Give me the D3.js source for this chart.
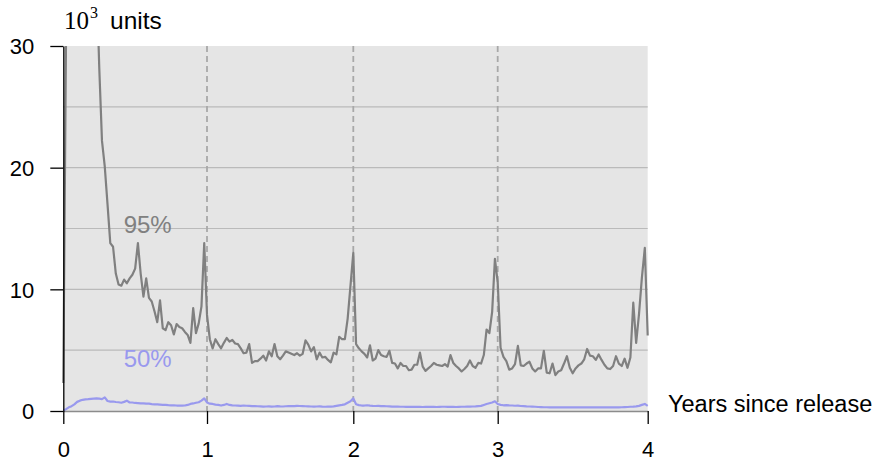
<!DOCTYPE html>
<html>
<head>
<meta charset="utf-8">
<script src="https://cdn.jsdelivr.net/npm/d3@7"></script>
<style>
  body { margin: 0; background: #fff; }
  text { font-family: "Liberation Sans", Arial, sans-serif; }
</style>
</head>
<body>
<svg id="chart" width="874" height="464"></svg>
<script>
// weekly samples, 52 per year, week 0 = release
var p95 = [
  2.3, 31, 38, 45, 51, 56, 59, 57, 53, 48, 44, 40, 36, 28.3, 22.2, 20.1, 17.0, 13.8, 13.5, 11.3,
  10.4, 10.3, 10.8, 10.5, 10.9, 11.2, 11.7, 13.8, 11.3, 9.4, 10.9, 9.3, 9.0, 8.2, 7.3, 9.1, 6.8, 6.65, 7.3, 7.05,
  6.3, 7.15, 6.9, 6.8, 6.5, 6.25, 5.6, 8.45, 6.4, 7.2, 8.6, 13.8,
  7.9, 5.9, 5.15, 5.9, 5.5, 5.15, 5.6, 6.0, 5.7, 5.85, 5.55, 5.5, 5.15, 4.75, 4.8, 5.5, 3.95, 4.1, 4.1, 4.3,
  4.55, 4.15, 4.9, 4.5, 5.5, 4.5, 4.25, 4.55, 4.9, 4.8, 4.7, 4.6, 4.75, 4.55, 4.7, 5.8, 5.45, 4.9, 5.25, 4.25,
  4.8, 4.4, 4.45, 4.2, 4.0, 4.8, 4.65, 6.1, 5.9, 5.9, 7.6, 10.3, 13.0,
  5.5, 5.15, 4.9, 4.7, 4.4, 5.4, 4.15, 4.3, 5.0, 4.6, 4.5, 4.45, 4.95, 3.95, 3.9, 3.5, 3.95, 3.7, 3.7, 3.35,
  3.4, 3.8, 3.8, 4.8, 3.65, 3.3, 3.5, 3.7, 3.95, 3.8, 3.75, 3.7, 3.85, 3.65, 4.6, 3.95, 3.7, 3.5, 3.25, 3.45,
  3.7, 4.15, 3.7, 3.55, 3.95, 3.9, 4.6, 6.7, 6.4, 8.15, 12.5,
  10.6, 5.2, 4.45, 4.1, 3.4, 3.5, 3.85, 5.35, 3.75, 3.7, 3.9, 4.05, 3.5, 3.25, 3.5, 3.5, 4.95, 3.15, 3.1, 3.9,
  2.95, 3.25, 3.35, 3.9, 4.5, 3.55, 3.1, 3.5, 3.75, 3.9, 4.25, 5.1, 4.55, 4.5, 4.2, 4.65, 4.2, 3.8, 3.5, 3.45,
  3.7, 4.5, 3.9, 3.7, 4.3, 3.55, 4.4, 8.9, 5.6, 8.0, 11.0, 13.4, 6.2
];

var p50 = [
  0.05, 0.15, 0.3, 0.4, 0.55, 0.75, 0.85, 0.92, 0.95, 0.97, 1.0, 1.02, 1.03, 1.02, 0.98, 1.12, 0.82, 0.77, 0.78, 0.74,
  0.72, 0.68, 0.75, 0.85, 0.7, 0.7, 0.66, 0.65, 0.63, 0.62, 0.6, 0.6, 0.57, 0.55, 0.55, 0.53, 0.5, 0.5, 0.48, 0.47,
  0.46, 0.45, 0.45, 0.44, 0.45, 0.5, 0.58, 0.62, 0.68, 0.72, 0.85, 1.04,
  0.7, 0.6, 0.58, 0.52, 0.5, 0.45, 0.5, 0.58, 0.5, 0.46, 0.45, 0.44, 0.42, 0.45, 0.43, 0.42, 0.4, 0.41, 0.39, 0.38,
  0.36, 0.37, 0.38, 0.36, 0.37, 0.4, 0.38, 0.37, 0.39, 0.4, 0.41, 0.4, 0.42, 0.41, 0.4, 0.39, 0.38, 0.37, 0.36, 0.37,
  0.38, 0.36, 0.35, 0.36, 0.36, 0.38, 0.42, 0.46, 0.5, 0.55, 0.68, 0.8, 1.04,
  0.55, 0.48, 0.45, 0.45, 0.47, 0.44, 0.42, 0.41, 0.42, 0.4, 0.41, 0.39, 0.38, 0.36, 0.37, 0.36, 0.35, 0.35, 0.34, 0.35,
  0.34, 0.34, 0.35, 0.34, 0.33, 0.34, 0.35, 0.34, 0.34, 0.33, 0.34, 0.35, 0.35, 0.34, 0.35, 0.34, 0.33, 0.34, 0.35, 0.35,
  0.36, 0.36, 0.37, 0.38, 0.4, 0.42, 0.5, 0.58, 0.64, 0.7, 0.8,
  0.58, 0.5, 0.47, 0.48, 0.46, 0.45, 0.43, 0.44, 0.41, 0.4, 0.38, 0.37, 0.36, 0.35, 0.33, 0.32, 0.31, 0.31, 0.3, 0.31,
  0.3, 0.31, 0.3, 0.3, 0.29, 0.3, 0.31, 0.3, 0.3, 0.31, 0.3, 0.3, 0.31, 0.3, 0.29, 0.3, 0.3, 0.31, 0.3, 0.3,
  0.31, 0.3, 0.3, 0.31, 0.32, 0.33, 0.35, 0.36, 0.38, 0.42, 0.5, 0.58, 0.42
];

var weeksPerYear = 52;
var xTicks = [0, 1, 2, 3, 4];
var yTicks = [0, 10, 20, 30];
var gridValues = [5, 10, 15, 20, 25];
var yearMarks = [1, 2, 3];

var svg = d3.select("#chart");

var x = d3.scaleLinear()
    .domain([0, 1, 2, 3, 4])
    .range([63.3, 207, 353.3, 497.7, 647.7]);

var y = d3.scaleLinear()
    .domain([0, 30])
    .range([411, 46]);

// plot background
svg.append("rect")
    .attr("x", x(0))
    .attr("y", y(30))
    .attr("width", x(4) - x(0))
    .attr("height", y(0) - y(30))
    .attr("fill", "#e5e5e5");

svg.append("defs").append("clipPath")
    .attr("id", "clip")
    .append("rect")
    .attr("x", x(0) - 2)
    .attr("y", y(30))
    .attr("width", x(4) - x(0) + 4)
    .attr("height", y(0) - y(30) + 2);

// horizontal grid
svg.append("g").selectAll("line")
    .data(gridValues)
    .join("line")
    .attr("x1", x(0))
    .attr("x2", x(4))
    .attr("y1", function (d) { return y(d); })
    .attr("y2", function (d) { return y(d); })
    .attr("stroke", "#bababa")
    .attr("stroke-width", 1.2);

// dashed year lines
svg.append("g").selectAll("line")
    .data(yearMarks)
    .join("line")
    .attr("x1", function (d) { return x(d); })
    .attr("x2", function (d) { return x(d); })
    .attr("y1", y(30))
    .attr("y2", y(0))
    .attr("stroke", "#a8a8a8")
    .attr("stroke-width", 1.8)
    .attr("stroke-dasharray", "6,4");

var line = d3.line()
    .x(function (d, i) { return x(i / weeksPerYear); })
    .y(function (d) { return y(d); });

var lines = svg.append("g").attr("clip-path", "url(#clip)");

lines.append("path")
    .datum(p50)
    .attr("fill", "none")
    .attr("stroke", "#9999ee")
    .attr("stroke-width", 2.2)
    .attr("stroke-linejoin", "round")
    .attr("d", line);

lines.append("path")
    .datum(p95)
    .attr("fill", "none")
    .attr("stroke", "#808080")
    .attr("stroke-width", 2.2)
    .attr("stroke-linejoin", "round")
    .attr("d", line);

// series labels
svg.append("text")
    .attr("x", x(0.42))
    .attr("y", y(14.6))
    .attr("fill", "#808080")
    .style("font-size", "24px")
    .text("95%");

svg.append("text")
    .attr("x", x(0.42))
    .attr("y", y(3.6))
    .attr("fill", "#9999ee")
    .style("font-size", "24px")
    .text("50%");

// axes
var xAxis = svg.append("g")
    .attr("transform", "translate(0," + y(0) + ")")
    .call(d3.axisBottom(x).tickValues(xTicks).tickFormat(d3.format("d")).tickSize(13).tickSizeOuter(0));

xAxis.select(".domain").attr("stroke", "#8c8c8c").attr("stroke-width", 1.3);
xAxis.selectAll(".tick line").attr("stroke", "#000").attr("stroke-width", 1.3);
xAxis.selectAll(".tick text")
    .attr("y", 46)
    .attr("dy", null)
    .attr("fill", "#000")
    .style("font-size", "22px")
    .style("font-family", "'Liberation Sans', Arial, sans-serif");

var yAxis = svg.append("g")
    .attr("transform", "translate(" + x(0) + ",0)")
    .call(d3.axisLeft(y).tickValues(yTicks).tickSize(13).tickSizeOuter(0).tickPadding(16));

yAxis.select(".domain").attr("stroke", "#000").attr("stroke-width", 1.3);
yAxis.selectAll(".tick line").attr("stroke", "#000").attr("stroke-width", 1.3);
yAxis.selectAll(".tick text")
    .attr("fill", "#000")
    .attr("dy", "0.36em")
    .style("font-size", "22px")
    .style("font-family", "'Liberation Sans', Arial, sans-serif");

// unit title
var title = svg.append("text")
    .attr("x", 64)
    .attr("y", 29)
    .attr("fill", "#000");

title.append("tspan")
    .style("font-family", "'Liberation Serif', 'DejaVu Serif', serif")
    .style("font-size", "25px")
    .text("10");

title.append("tspan")
    .attr("dy", -11)
    .attr("dx", 1)
    .style("font-family", "'Liberation Serif', 'DejaVu Serif', serif")
    .style("font-size", "16px")
    .text("3");

title.append("tspan")
    .attr("dy", 11)
    .attr("dx", 12)
    .style("font-size", "24.5px")
    .text("units");

svg.append("text")
    .attr("x", 668)
    .attr("y", y(0) + 1)
    .attr("fill", "#000")
    .style("font-size", "23.5px")
    .text("Years since release");
</script>
</body>
</html>
